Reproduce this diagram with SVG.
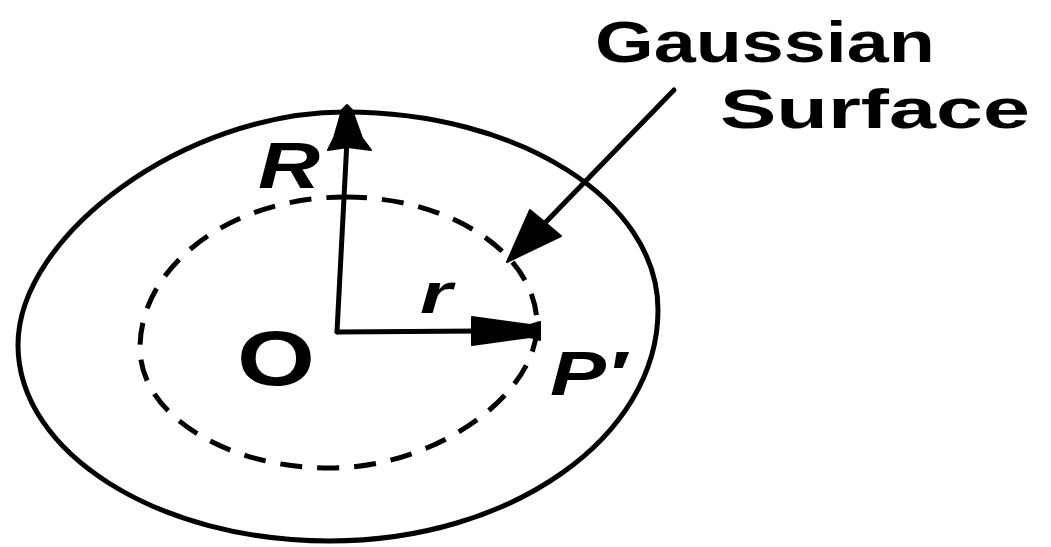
<svg xmlns="http://www.w3.org/2000/svg" width="1051" height="547" viewBox="0 0 1051 547">
<style>
.ln{fill:none;stroke:#000;stroke-width:5;stroke-linecap:round;stroke-linejoin:round}
.dash{fill:none;stroke:#000;stroke-width:5;stroke-dasharray:22 15}
.head{fill:#000;stroke:#000;stroke-width:2;stroke-linejoin:round}
.t{font-family:"Liberation Sans",Arial,sans-serif;font-weight:bold;fill:#000}
.it{font-family:"Liberation Sans",Arial,sans-serif;font-weight:bold;font-style:italic;fill:#000}
</style>
<rect width="1051" height="547" fill="#fff"/>
<g id="outer-sphere">
<path class="ln" d="M345,112 C519,112 658,200 658,310 C658,437 511,541 330,541 C158,541 18,453 18,345 C18,235 185,112 345,112 Z"/>
</g>
<g id="gaussian-surface">
<path class="dash" d="M345,197 C451,197 537,254 537,325 C537,395 435,468 330,468 C225,468 140,414 140,348 C140,265 232,197 345,197 Z"/>
</g>
<g id="connectors">
<line class="ln" x1="337" y1="332" x2="347" y2="140"/>
<path class="head" d="M347,105 L352,110 L362,138 L371,150 L348,147 L328,150 L334,138 L342,110 Z"/>
<line class="ln" x1="337" y1="332" x2="480" y2="331"/>
<path class="head" d="M472,317 L530,325 L540,322 L540,340 L530,337 L472,345 Z"/>
<line class="ln" x1="674" y1="90" x2="542" y2="226"/>
<path class="head" d="M507,262 L530,210 L561,236 Z"/>
</g>
<g id="labels">
<text class="it" x="258" y="188" font-size="64" textLength="62" lengthAdjust="spacingAndGlyphs">R</text>
<text class="it" x="420" y="313" font-size="58" textLength="32" lengthAdjust="spacingAndGlyphs">r</text>
<text class="t" x="237" y="385" font-size="78" textLength="78" lengthAdjust="spacingAndGlyphs">O</text>
<text class="it" x="550" y="395" font-size="63" textLength="76" lengthAdjust="spacingAndGlyphs">P′</text>
<text class="t" x="595" y="62" font-size="58" textLength="340" lengthAdjust="spacingAndGlyphs">Gaussian</text>
<text class="t" x="720" y="128" font-size="56" textLength="310" lengthAdjust="spacingAndGlyphs">Surface</text>
</g>
</svg>
